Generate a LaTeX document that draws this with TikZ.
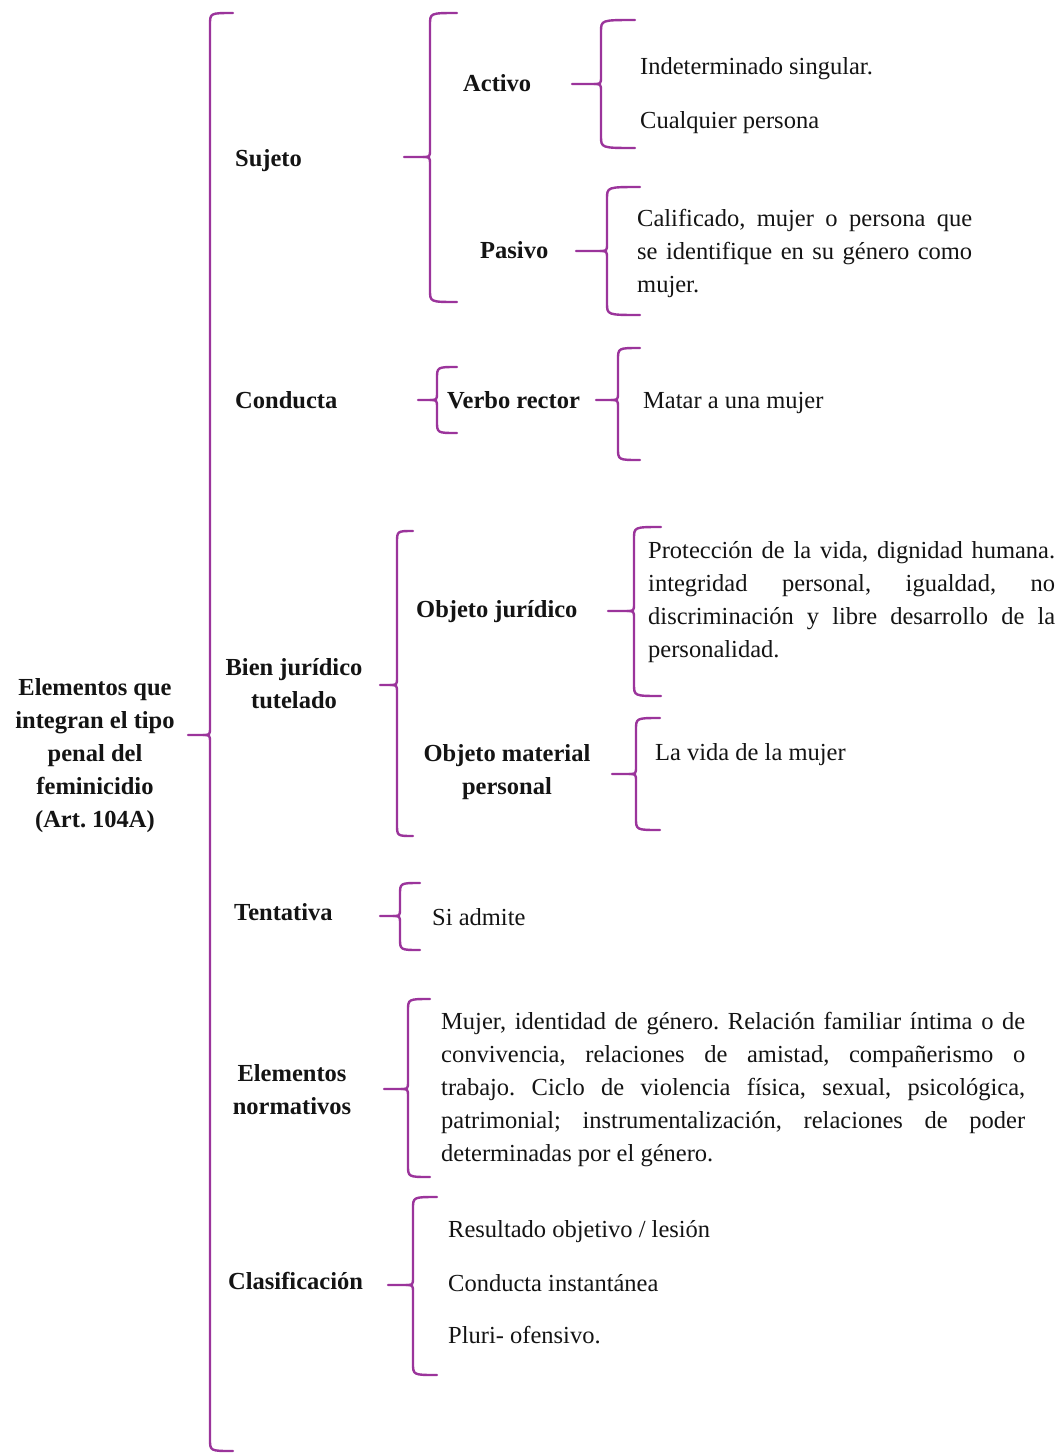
\documentclass[tikz,border=0pt]{standalone}
\usepackage{fontspec}
\setmainfont{Liberation Serif}
\frenchspacing
\definecolor{bracecol}{RGB}{155,52,155}
\definecolor{txt}{RGB}{20,20,20}
\tikzset{
  bracestyle/.style={draw=bracecol, line width=2.4pt, line cap=round, line join=round},
  lab/.style={inner sep=0pt, anchor=base west, text=txt, font={\fontsize{24.5}{33}\selectfont\bfseries}},
  labc/.style={inner sep=0pt, anchor=base, align=center, text=txt, font={\fontsize{24.5}{33}\selectfont\bfseries}},
  item/.style={inner sep=0pt, anchor=base west, text=txt, font={\fontsize{24.5}{33}\selectfont}},
  para/.style={inner sep=0pt, anchor=base west, text=txt, align=justify, font={\fontsize{24.5}{33}\selectfont\frenchspacing}},
}
% x, top, mid, bot, tipx, hookx
\newcommand\mybrack[6]{%
  \draw[bracestyle] (#6,#2) .. controls (#1,#2) .. (#1,#2+12) -- (#1,#3-8) .. controls (#1,#3) .. (#1-7,#3) -- (#5,#3);
  \draw[bracestyle] (#1-7,#3) .. controls (#1,#3) .. (#1,#3+8) -- (#1,#4-12) .. controls (#1,#4) .. (#6,#4);
}
\begin{document}
\begin{tikzpicture}[x=1pt,y=-1pt]
\useasboundingbox[fill=white] (0,0) rectangle (1060,1454);

% braces
\mybrack{210}{13}{735}{1451}{188}{233}
\mybrack{430}{13}{157}{302}{404}{457}
\mybrack{601}{20}{84}{148}{572}{635}
\mybrack{607}{187}{251}{315}{576}{640}
\mybrack{437}{367}{400}{433}{418}{457}
\mybrack{618}{348}{400}{460}{596}{640}
\mybrack{397}{531}{685}{836}{380}{413}
\mybrack{634}{527}{611}{696}{608}{661}
\mybrack{636}{718}{774}{830}{612}{660}
\mybrack{400}{883}{916}{950}{380}{420}
\mybrack{408}{999}{1089}{1177}{384}{430}
\mybrack{413}{1197}{1285}{1375}{388}{437}

% root (base anchor = last line)
\node[labc] (root) at (95,827) {Elementos que\\integran el tipo\\penal del\\feminicidio\\(Art. 104A)};

% level 1
\node[lab] (sujeto) at (235,166) {Sujeto};
\node[lab] (conducta) at (235,408) {Conducta};
\node[labc] (bien) at (294,708) {Bien jurídico\\tutelado};
\node[lab] (tentativa) at (234,920) {Tentativa};
\node[labc] (normativos) at (292,1114) {Elementos\\normativos};
\node[lab] (clasif) at (228,1289) {Clasificación};

% level 2
\node[lab] (activo) at (463,91) {Activo};
\node[lab] (pasivo) at (480,258) {Pasivo};
\node[lab] (verbo) at (447,408) {Verbo rector};
\node[lab] (objjur) at (416,617) {Objeto jurídico};
\node[labc] (objmat) at (507,794) {Objeto material\\personal};

% leaves
\node[item] (indet) at (640,74) {Indeterminado singular.};
\node[item] (cualq) at (640,128) {Cualquier persona};
\node[para, text width=335pt] (calif) at (637,226) {Calificado, mujer o persona que\linebreak se identifique en su género como\linebreak mujer.};
\node[item] (matar) at (643,408) {Matar a una mujer};
\node[para, text width=407pt] (prot) at (648,558) {Protección de la vida, dignidad humana.\linebreak integridad personal, igualdad, no\linebreak discriminación y libre desarrollo de la\linebreak personalidad.};
\node[item] (vida) at (655,760) {La vida de la mujer};
\node[item] (si) at (432,925) {Si admite};
\node[para, text width=584pt] (mujer) at (441,1029) {Mujer, identidad de género. Relación familiar íntima o de\linebreak convivencia, relaciones de amistad, compañerismo o\linebreak trabajo. Ciclo de violencia física, sexual, psicológica,\linebreak patrimonial; instrumentalización, relaciones de poder\linebreak determinadas por el género.};
\node[item] (res) at (448,1237) {Resultado objetivo / lesión};
\node[item] (inst) at (448,1291) {Conducta instantánea};
\node[item] (pluri) at (448,1343) {Pluri- ofensivo.};
\end{tikzpicture}
\end{document}
